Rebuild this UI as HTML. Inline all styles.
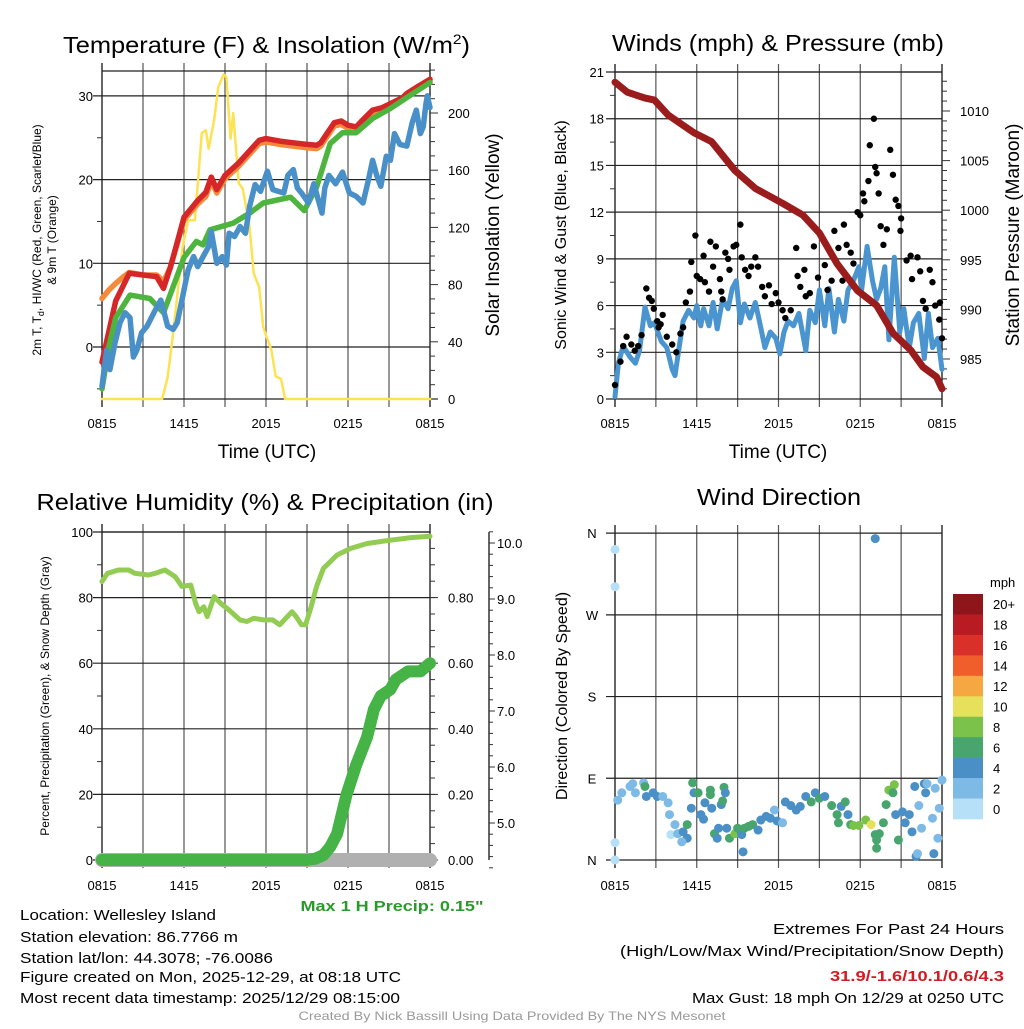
<!DOCTYPE html>
<html><head><meta charset="utf-8"><style>
html,body{margin:0;padding:0;background:#fff;}
svg text{font-family:"Liberation Sans",sans-serif;fill:#000;}
</style></head><body>
<svg id="chart" xmlns="http://www.w3.org/2000/svg" width="1024" height="1024" viewBox="0 0 1024 1024">
<rect x="0" y="0" width="1024" height="1024" fill="#fff"/>
<g id="p1"></g>
<g id="p2"></g>
<g id="p3"></g>
<g id="p4"></g>
<g id="txt">
<text x="63" y="53" font-size="23" textLength="407" lengthAdjust="spacingAndGlyphs">Temperature (F) &amp; Insolation (W/m<tspan dy="-9" font-size="14">2</tspan><tspan dy="9">)</tspan></text>
<text x="778" y="51" font-size="23" text-anchor="middle" textLength="332" lengthAdjust="spacingAndGlyphs">Winds (mph) &amp; Pressure (mb)</text>
<text x="265" y="510" font-size="23" text-anchor="middle" textLength="457" lengthAdjust="spacingAndGlyphs">Relative Humidity (%) &amp; Precipitation (in)</text>
<text x="779" y="505" font-size="23" text-anchor="middle" textLength="164" lengthAdjust="spacingAndGlyphs">Wind Direction</text>
<text x="267" y="458" font-size="19" text-anchor="middle">Time (UTC)</text>
<text x="778" y="458" font-size="19" text-anchor="middle">Time (UTC)</text>
<text transform="translate(41,240) rotate(-90)" font-size="12" text-anchor="middle">2m T, T<tspan dy="3" font-size="9">d</tspan><tspan dy="-3">, HI/WC (Red, Green, Scarlet/Blue)</tspan></text>
<text transform="translate(56,240) rotate(-90)" font-size="12" text-anchor="middle">&amp; 9m T (Orange)</text>
<text transform="translate(499,235) rotate(-90)" font-size="19" text-anchor="middle">Solar Insolation (Yellow)</text>
<text transform="translate(566,235) rotate(-90)" font-size="16" text-anchor="middle">Sonic Wind &amp; Gust (Blue, Black)</text>
<text transform="translate(1019,235) rotate(-90)" font-size="19" text-anchor="middle">Station Pressure (Maroon)</text>
<text transform="translate(49,696) rotate(-90)" font-size="12" text-anchor="middle">Percent, Precipitation (Green), &amp; Snow Depth (Gray)</text>
<text transform="translate(567,696) rotate(-90)" font-size="16" text-anchor="middle">Direction (Colored By Speed)</text>
<text x="392" y="911" font-size="15" font-weight="bold" style="fill:#2a9a2a" text-anchor="middle" textLength="183" lengthAdjust="spacingAndGlyphs">Max 1 H Precip: 0.15"</text>
<text x="20" y="920" font-size="15" textLength="196" lengthAdjust="spacingAndGlyphs">Location: Wellesley Island</text>
<text x="20" y="942" font-size="15" textLength="218" lengthAdjust="spacingAndGlyphs">Station elevation: 86.7766 m</text>
<text x="20" y="963" font-size="15" textLength="253" lengthAdjust="spacingAndGlyphs">Station lat/lon: 44.3078; -76.0086</text>
<text x="20" y="982" font-size="15" textLength="381" lengthAdjust="spacingAndGlyphs">Figure created on Mon, 2025-12-29, at 08:18 UTC</text>
<text x="20" y="1003" font-size="15" textLength="380" lengthAdjust="spacingAndGlyphs">Most recent data timestamp: 2025/12/29 08:15:00</text>
<text x="1004" y="934" font-size="15" text-anchor="end" textLength="231" lengthAdjust="spacingAndGlyphs">Extremes For Past 24 Hours</text>
<text x="1004" y="956" font-size="15" text-anchor="end" textLength="384" lengthAdjust="spacingAndGlyphs">(High/Low/Max Wind/Precipitation/Snow Depth)</text>
<text x="1004" y="981" font-size="15" font-weight="bold" text-anchor="end" style="fill:#d01c24" textLength="174" lengthAdjust="spacingAndGlyphs">31.9/-1.6/10.1/0.6/4.3</text>
<text x="1004" y="1003" font-size="15" text-anchor="end" textLength="312" lengthAdjust="spacingAndGlyphs">Max Gust: 18 mph On 12/29 at 0250 UTC</text>
<text x="512" y="1020" font-size="12" text-anchor="middle" style="fill:#999" textLength="427" lengthAdjust="spacingAndGlyphs">Created By Nick Bassill Using Data Provided By The NYS Mesonet</text>
</g>
</svg>
<script>
// ---- time axis labels ----
const timeTicks = [0, 6, 12, 18, 24];
const timeLabels = ["0815", "1415", "2015", "0215", "0815"];
// ---- panel 1: temperature ----
const redT = [0,1,2,3,4,4.5,5,5.5,6,7,7.6,8,8.4,9,10,11,11.5,12,13,14,15,15.7,16,16.5,17,17.5,18,18.6,19,19.8,20.5,21,22,22.3,23,24];
const redV = [-1.8,5.5,8.8,8.6,8.4,7,9.5,12.5,15.5,17.5,18.5,20.3,18.8,20.5,22,23.8,24.7,24.9,24.6,24.4,24.2,24.1,24.4,25.6,26.8,27,26.5,26.3,27,28.3,28.6,29,29.8,30.3,31,32];
const orangeT = [0,0.5,1,1.5,2,3,4,4.5,5,5.5,6,7,7.6,8,8.4,9,10,11,11.5,12,13,14,15,15.7,16,16.5,17,17.5,18,18.6,19,19.8,20.5,21,22,22.3,23,24];
const orangeV = [5.8,6.8,7.6,8.3,8.9,8.6,8.6,7.8,9.5,12.3,15.2,17.1,18,19.8,18.4,20.1,21.6,23.4,24.3,24.5,24.2,24,23.8,23.7,24,25.2,26.4,26.6,26.1,26,26.7,28,28.3,28.7,29.5,30,30.8,31.8];
const greenT = [0,0.5,1,2.05,3.5,4.5,6,6.9,7.4,7.9,9.6,10.8,11.8,13.8,14.8,15.7,16.7,17.6,18.6,19.8,21.1,22.3,24];
const greenV = [-5,0,3.5,6.2,5.8,4.1,10.7,12.6,12.2,14,14.8,16,17.2,17.9,16.3,19.1,24.3,25.6,25.6,27.3,28.5,29.8,31.6];
const blueT = [0,0.34,0.58,0.95,1.32,1.68,2.05,2.3,2.55,2.9,3.3,3.8,4.3,4.5,4.8,5.2,5.5,5.9,6.3,6.7,7,7.4,7.8,8,8.4,8.8,9.1,9.3,9.7,10.1,10.5,10.8,11.2,11.6,12.1,12.5,13.3,13.6,14,14.3,14.6,15.1,15.5,16.1,16.3,16.6,17.1,17.6,18.1,18.6,19.1,19.5,19.8,20.1,20.4,20.8,21.1,21.4,21.8,22.3,22.7,23,23.3,23.5,23.7,23.8,24];
const blueV = [-4.7,-0.4,-2.7,0.5,2.9,4.1,3.5,-1.2,-0.4,1.7,2.5,4.1,5.6,4.4,2.5,2.1,2.9,6,9.2,10.8,9.6,10.8,12,13.8,10,10.8,9.8,13.6,13.2,14.4,13.6,16.8,19.4,18.6,21,18.8,18.4,20.5,21.2,19,18.4,17.2,19.5,16,19,20.5,19.5,20.9,18.4,18,17.2,20,22.3,20.5,19.2,22.8,22.3,25.5,24.2,24,26.8,28.3,25.5,26.3,29,30,28.6];
const solarT = [0,4.4,4.8,5.2,5.9,6.3,6.8,7.3,7.6,7.8,8.2,8.5,8.9,9.1,9.4,9.6,10,10.3,10.8,11.1,11.5,11.8,12.4,12.7,13.1,13.4,24];
const solarV = [0,0,15,46,106,125,125,186,188,175,195,218,227,225,182,200,151,147,120,88,78,50,34,16,14,0,0];
// ---- panel 2: wind & pressure ----
const presT = [0,0.9,2.2,2.9,3.9,5.8,7.1,8.8,10.3,12.3,13.8,15,16.3,17.8,19.2,20.4,21.7,22.6,23.6,24];
const presV = [1012.9,1011.9,1011.3,1011.1,1009.6,1007.8,1006.9,1004,1002.2,1000.7,999.5,997.7,994.6,991.9,990.4,987.6,985.9,984.2,983.2,982];
const windT = [0,0.25,0.6,1.1,1.5,1.8,2.2,2.6,2.9,3.4,3.8,4.2,4.4,4.6,5,5.4,5.8,6,6.3,6.5,6.9,7.2,7.5,7.9,8.3,8.6,8.9,9.2,9.5,9.9,10.3,10.6,11,11.4,11.8,12.1,12.4,12.7,13.1,13.5,14,14.3,14.7,15,15.4,15.7,16.1,16.4,16.8,17.1,17.5,17.9,18.1,18.5,18.9,19.2,19.5,19.8,20.1,20.5,20.9,21.2,21.6,21.9,22.3,22.7,23,23.3,23.7,24];
const windV = [0.15,2.3,3.4,2.7,2.3,3.1,5.9,4.7,4.9,3.7,3.3,1.9,1.5,2.7,5,5.7,5.2,6,4.7,5.8,4.7,6.2,4.5,6.4,5.8,7.1,7.6,4.9,6.1,5.2,6.2,5,3.3,4.3,3.9,2.9,4.3,5,4.7,5.5,3.1,5.7,4.9,7,4.7,7.1,4.3,6.4,5,7,7.6,8.5,7,9.8,7.6,6.4,7.1,8.5,3.8,9.1,4.3,5.8,3.3,4.9,5.5,2.6,5.5,3.3,3.9,1.9];
const gustT = [0,0.4,0.6,0.85,1.2,1.45,1.7,1.95,2.3,2.5,2.7,2.85,3.1,3.35,3.5,3.2,3.8,4.2,4.5,4.8,5,5.2,5.5,5.6,5.9,6,6.25,6.5,6.6,6.9,7,7.2,7.4,7.7,7.8,7.9,8.1,8.3,8.4,8.7,8.9,9.2,9.3,9.55,9.8,10,10.3,10.5,10.8,11,11.3,11.5,11.8,12,12.3,12.5,12.9,13.3,13.4,13.6,13.9,14,14.3,14.6,14.9,15.4,15.6,15.9,16.1,16.4,16.7,16.8,17,17.3,17.5,17.8,18,18.2,18.3,18.6,18.7,19,19.1,19.2,19.35,19.5,19.7,19.95,20.2,20.4,20.6,20.8,21,20.95,21.4,21.7,21.8,22.2,22.4,22.6,22.8,23.1,23.3,23.5,23.8,23.85,24];
const gustV = [0.9,2.4,3.4,4,3.5,3.1,3.4,4.1,7.1,6.5,6.3,5.8,5,4.8,5.4,4.6,4,3.5,3,4.2,4.6,6.2,6.9,8.8,10.5,7.9,7.7,9.2,7.5,6.9,10.1,8.5,9.8,7.7,6.9,6.4,9.4,9,8.3,9.8,9.9,11.2,9.1,8.3,7.9,8.5,9.1,8.5,7.2,6.6,7.3,6.1,6.8,6.2,5.7,5.2,5.7,9.7,7.9,7.2,8.3,6.6,6.8,9.8,7.8,8.6,7,7.6,10.8,9.7,7.6,11.2,9.9,9.4,8.7,12,11.8,13.2,12.7,14,16.3,18,14.9,14.5,13.2,11.1,9.9,10.9,16,14.4,12.8,12.4,11.6,10.8,8.9,9.2,7.7,9.1,8.2,6.3,5.8,8.3,7.5,6,5.1,6.2,3.9];
// ---- panel 3: humidity & precip ----
const rhT = [0,0.4,1.2,1.95,2.4,3.4,3.9,4.6,5.35,5.85,6.5,6.85,7.1,7.45,7.7,8.2,8.7,9.3,10.1,10.6,11.1,11.8,12.5,13,13.9,14.2,14.6,14.9,15.3,15.7,16.2,17.2,18.2,19.4,21.1,22.6,24];
const rhV = [84.9,87.4,88.4,88.4,87.4,86.9,87.4,88.4,86.4,83.4,83.8,78.2,75.7,77.2,74.2,80.3,78.2,76.2,73.2,72.7,73.7,73.2,73.2,71.7,75.7,74.2,71.7,71.7,77.2,83.4,88.9,93,95,96.5,97.5,98.3,98.7];
const precipT = [0,15,15.6,16.2,16.7,17.2,17.9,18.6,19.4,19.9,20.4,21.1,21.5,22.4,23.3,24];
const precipV = [0,0,0.004,0.015,0.04,0.08,0.2,0.29,0.375,0.46,0.5,0.52,0.55,0.575,0.575,0.6];
const snowT = [0,24];
const snowV = [0,0];
// ---- panel 4: wind direction ----
const dirT = [0,0,0,0,0.2,0.5,1.1,1.3,1.5,2.1,2.2,2.3,2.8,3.1,3.5,3.9,4,4.4,4.1,4.6,5,5.3,5.3,4.9,5.6,5.7,5.8,6.1,6.3,6.5,6.6,7,7,7.1,7.3,7.5,7.6,7.8,7.9,8,8.1,8.2,8.4,8.8,9,9.3,9.4,9.5,9.8,10.1,10.5,10.7,11.1,11.4,11.7,11.9,12.3,12.5,12.9,13.3,13.6,14,14.4,14.7,15,15.4,15.9,16.3,16.4,16.6,16.9,17.1,17.3,17.5,17.9,18.4,18.8,19.1,19.4,19.2,19.2,19.1,19.7,19.9,20.1,20.5,20.4,20.8,20.6,21.1,21.3,21.6,21.8,22,22.1,22.2,22.3,22.5,22.7,22.8,22.9,23.3,23.4,23.5,23.7,23.8,24];
const dirV = [342,301,19,0,66,74,81,84,74,85,81,70,74,70,70,63,50,39,28,29,31,39,24,20,57,85,74,74,50,45,63,77,72,57,29,24,35,61,65,80,74,35,24,29,35,28,9,35,37,39,33,44,48,46,55,43,41,64,60,55,59,70,64,74,68,70,60,50,41,59,64,50,39,38,38,44,39,28,29,22,13,354,41,61,77,83,74,22,50,53,41,50,31,81,4,7,60,35,84,74,84,46,7,79,24,57,88];
const dirSpd = [1,1,1,1,3,3,3,3,3,3,7,5,5,5,3,3,3,3,1,3,5,7,5,3,5,7,5,7,5,5,5,7,7,5,7,5,5,5,7,7,5,5,7,9,7,5,5,7,7,7,5,5,5,5,3,5,3,5,5,5,5,5,7,5,7,5,7,7,7,5,7,5,7,9,9,9,11,7,7,7,7,5,7,7,9,9,7,7,5,5,5,5,5,5,5,3,3,3,5,5,3,3,5,3,3,3,3];
const cbLabels = ["20+","18","16","14","12","10","8","6","4","2","0"];
const cbColors = ["#8e1519","#b81b22","#d9302a","#ef5e2b","#f5a742","#e6e05a","#7ac24a","#48a56e","#4a8fc6","#7ebae6","#b5e0f7"];

const NS = "http://www.w3.org/2000/svg";
function mk(parent, tag, attrs) {
  const e = document.createElementNS(NS, tag);
  for (const k in attrs) e.setAttribute(k, attrs[k]);
  parent.appendChild(e);
  return e;
}
function xs(x0, x1) { return t => x0 + t / 24 * (x1 - x0); }

const X1 = xs(102, 430), X2 = xs(615, 942), X3 = xs(102, 430), X4 = xs(615, 942);
const yT = v => 347 - v * 8.37;
const ySol = v => 399 - v * 1.43;
const yW = v => 399 - v * 15.57;
const yP = p => 111 + (1010 - p) * 9.92;
const yRH = v => 860 - v * 3.28;
const yPr = v => 860 - v * 328;
const ySn = v => 543 + (10 - v) * 56;
const ySnowLine = v => 860 - v * 3;
const yD = d => 860 - d * 0.908;

function frame(g, x0, x1, y0, y1) {
  for (let i = 0; i <= 8; i++) {
    const x = x0 + i * (x1 - x0) / 8;
    const l = mk(g, "line", {x1: x, x2: x, y1: y0 - 8, y2: y1 + 8, stroke: (i === 0 || i === 8) ? "#000" : "#555", "stroke-width": 1.2});
    
    
  }
}
function hgrid(g, x0, x1, y, left, right) {
  const l = mk(g, "line", {x1: x0 - left, x2: x1 + right, y1: y, y2: y, stroke: "#222", "stroke-width": 1.2});
  
  
}
function label(g, x, y, s, anchor, size) {
  const t = mk(g, "text", {x: x, y: y, "font-size": size || 13, "text-anchor": anchor || "start"});
  t.textContent = s;
  
  
  return t;
}
function tick(g, x1, y1, x2, y2) {
  const l = mk(g, "line", {x1: x1, y1: y1, x2: x2, y2: y2, stroke: "#333", "stroke-width": 1});
  
  
}
function series(g, T, V, X, Y, color, w, name) {
  const d = T.map((t, i) => (i ? "L" : "M") + X(t).toFixed(1) + " " + Y(V[i]).toFixed(1)).join("");
  const p = mk(g, "path", {d: d, fill: "none", stroke: color, "stroke-width": w, "stroke-linejoin": "round", "stroke-linecap": "round"});
  
  
  return p;
}
function timeLabelsAt(g, X, y) {
  timeTicks.forEach((t, i) => label(g, X(t), y, timeLabels[i], "middle", 13));
}

// ---- Panel 1 ----
const g1 = document.getElementById("p1");
frame(g1, 102, 430, 71, 399);
hgrid(g1, 102, 430, 71, 0, 0);
hgrid(g1, 102, 430, 399, 0, 8);
[0, 10, 20, 30].forEach(v => { hgrid(g1, 102, 430, yT(v), 9, 0); label(g1, 93, yT(v) + 5, String(v), "end"); });
[-5, 5, 15, 25].forEach(v => tick(g1, 97, yT(v), 102, yT(v)));
[0, 40, 80, 120, 160, 200].forEach(v => { tick(g1, 430, ySol(v), 438, ySol(v)); label(g1, 448, ySol(v) + 5, String(v)); });
for (let v = 10; v <= 230; v += 10) if (v % 40) tick(g1, 430, ySol(v), 435, ySol(v));
series(g1, solarT, solarV, X1, ySol, "#fde253", 2.5, "solar-insolation-line");
series(g1, orangeT, orangeV, X1, yT, "#f58a3a", 5.5, "temp-9m-line");
series(g1, redT, redV, X1, yT, "#d62728", 5.5, "temp-2m-line");
series(g1, greenT, greenV, X1, yT, "#4db53e", 5.5, "heat-index-windchill-line");
series(g1, blueT, blueV, X1, yT, "#4a90c8", 5.5, "dewpoint-line");
timeLabelsAt(g1, X1, 428);

// ---- Panel 2 ----
const g2 = document.getElementById("p2");
frame(g2, 615, 942, 72, 399);
hgrid(g2, 615, 942, 72, 0, 0);
for (let v = 0; v <= 21; v += 3) { hgrid(g2, 615, 942, yW(v), 9, 0); label(g2, 604, yW(v) + 5, String(v), "end"); }
for (let v = 1.5; v < 21; v += 3) tick(g2, 610, yW(v), 615, yW(v));
[985, 990, 995, 1000, 1005, 1010].forEach(p => { tick(g2, 942, yP(p), 950, yP(p)); label(g2, 960, yP(p) + 5, String(p)); });
for (let p = 982; p <= 1013; p++) if (p % 5) tick(g2, 942, yP(p), 947, yP(p));
series(g2, windT, windV, X2, yW, "#4a95d0", 5, "sonic-wind-line");
gustT.forEach((t, i) => {
  const c = mk(g2, "circle", {cx: X2(t), cy: yW(gustV[i]), r: 3.2, fill: "#000"});
  
  
});
series(g2, presT, presV, X2, yP, "#9b1c1c", 7, "pressure-line");
timeLabelsAt(g2, X2, 428);

// ---- Panel 3 ----
const g3 = document.getElementById("p3");
frame(g3, 102, 430, 532, 860);
hgrid(g3, 102, 430, 532, 0, 0);
for (let v = 0; v <= 100; v += 20) { hgrid(g3, 102, 430, yRH(v), 9, 0); label(g3, 93, yRH(v) + 5, String(v), "end"); }
for (let v = 10; v < 100; v += 20) tick(g3, 97, yRH(v), 102, yRH(v));
[0, 0.2, 0.4, 0.6, 0.8].forEach(v => { tick(g3, 430, yPr(v), 438, yPr(v)); label(g3, 448, yPr(v) + 5, v.toFixed(2)); });
for (let v = 0.05; v < 1; v += 0.05) tick(g3, 430, yPr(v), 435, yPr(v));
const sa = mk(g3, "line", {x1: 489, x2: 489, y1: 532, y2: 860, stroke: "#000", "stroke-width": 1.2});


[5, 6, 7, 8, 9, 10].forEach(v => { tick(g3, 489, ySn(v), 495, ySn(v)); label(g3, 497, ySn(v) + 5, v.toFixed(1)); });
for (let v = 4.2; v < 10.2; v += 0.2) tick(g3, 489, ySn(v), 493, ySn(v));
series(g3, snowT, snowV, X3, ySnowLine, "#b0b0b0", 14, "snow-depth-line");
series(g3, precipT, precipV, X3, yPr, "#45b345", 12, "precipitation-line");
series(g3, rhT, rhV, X3, yRH, "#92cc53", 5, "relative-humidity-line");
timeLabelsAt(g3, X3, 890);

// ---- Panel 4 ----
const g4 = document.getElementById("p4");
frame(g4, 615, 942, 533, 860);
const dirLabels = ["N", "E", "S", "W", "N"];
[0, 90, 180, 270, 360].forEach((d, i) => { hgrid(g4, 615, 942, yD(d), 9, 0); label(g4, 592, yD(d) + 5, dirLabels[i], "middle"); });
dirT.forEach((t, i) => {
  const bin = Math.min(10, Math.floor(dirSpd[i] / 2));
  const c = mk(g4, "circle", {cx: X4(t), cy: yD(dirV[i]), r: 4.5, fill: cbColors[10 - bin]});
  
  
});
timeLabelsAt(g4, X4, 890);
const cb = mk(g4, "g", {});


const cbh = 225 / 11;
cbColors.forEach((c, i) => {
  const r = mk(cb, "rect", {x: 953, y: 594 + i * cbh, width: 30, height: cbh + 0.3, fill: c});
  
  
  label(cb, 993, 594 + i * cbh + cbh / 2 + 5, cbLabels[i], "start", 13);
});
label(cb, 990, 587, "mph", "start", 13);
</script>
</body></html>
